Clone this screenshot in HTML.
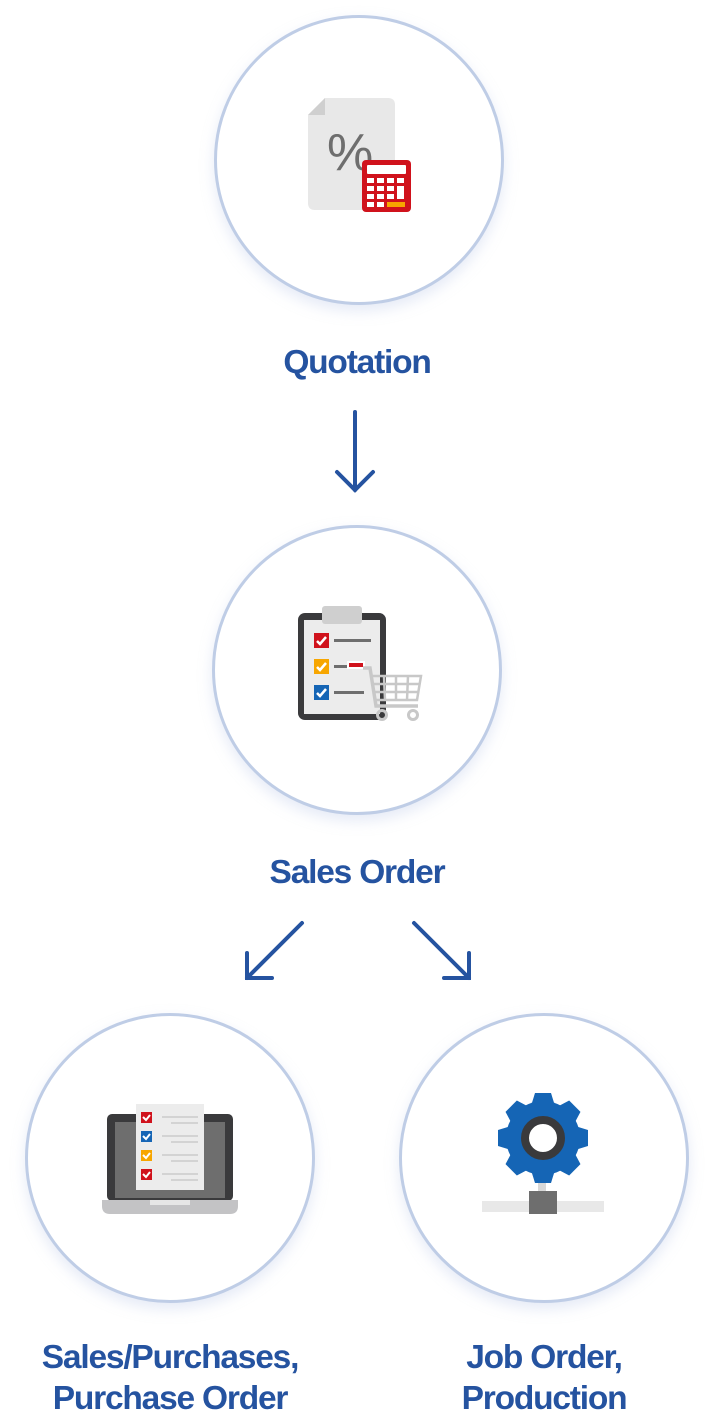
<!DOCTYPE html>
<html><head><style>
html,body{margin:0;padding:0;background:#fff;}
body{width:714px;height:1414px;position:relative;overflow:hidden;font-family:"Liberation Sans",sans-serif;}
.c{position:absolute;width:284px;height:284px;border-radius:50%;border:3px solid #bfcde6;background:#fff;box-shadow:0 6px 14px rgba(180,195,230,0.35);}
.t{position:absolute;color:#2553a0;font-weight:bold;font-size:33.5px;letter-spacing:-1.2px;text-align:center;line-height:41px;}
svg{position:absolute;left:0;top:0;}
</style></head><body>
<div class="c" style="left:214px;top:15px"></div>
<div class="c" style="left:212px;top:525px"></div>
<div class="c" style="left:25px;top:1013px"></div>
<div class="c" style="left:399px;top:1013px"></div>
<div class="t" style="left:200px;width:314px;top:342px">Quotation</div>
<div class="t" style="left:200px;width:314px;top:852px">Sales Order</div>
<div class="t" style="left:0px;width:340px;top:1337px">Sales/Purchases,<br>Purchase Order</div>
<div class="t" style="left:384px;width:320px;top:1337px">Job Order,<br>Production</div>
<svg width="714" height="1414">
<g stroke="#2553a0" stroke-width="4" fill="none" stroke-linecap="round">
<line x1="355" y1="412" x2="355" y2="490"/><polyline points="337,472 355,490 373,472"/>
<line x1="302" y1="923" x2="247" y2="978"/><polyline points="247,953 247,978 272,978"/>
<line x1="414" y1="923" x2="469" y2="978"/><polyline points="444,978 469,978 469,953"/>
</g>
<!-- quotation icon -->
<path d="M325,98 H388 Q395,98 395,105 V203 Q395,210 388,210 H315 Q308,210 308,203 V115 Z" fill="#e8e8e8"/>
<path d="M325,98 V115 H308 Z" fill="#cfcfcf"/>
<text x="327" y="170" font-size="52" fill="#6e6e6e" font-family="Liberation Sans">%</text>
<rect x="362" y="160" width="49" height="52" rx="4" fill="#d0121c"/>
<rect x="367" y="165" width="39" height="9" rx="1" fill="#fff"/>
<g fill="#fff"><rect x="367" y="178" width="7" height="5"/><rect x="377" y="178" width="7" height="5"/><rect x="387" y="178" width="7" height="5"/><rect x="397" y="178" width="7" height="5"/>
<rect x="367" y="186" width="7" height="5"/><rect x="377" y="186" width="7" height="5"/><rect x="387" y="186" width="7" height="5"/><rect x="397" y="186" width="7" height="13"/>
<rect x="367" y="194" width="7" height="5"/><rect x="377" y="194" width="7" height="5"/><rect x="387" y="194" width="7" height="5"/>
<rect x="367" y="202" width="7" height="5"/><rect x="377" y="202" width="7" height="5"/></g>
<rect x="387" y="202" width="18" height="5" fill="#f7a600"/>
<!-- sales order icon -->
<rect x="298" y="613" width="88" height="107" rx="7" fill="#3a3a3c"/>
<rect x="304" y="620" width="76" height="94" fill="#ececec"/>
<rect x="322" y="606" width="40" height="18" rx="3" fill="#cfcfcf"/>
<rect x="314" y="633" width="15" height="15" fill="#d0121c"/>
<rect x="314" y="659" width="15" height="15" fill="#f7a600"/>
<rect x="314" y="685" width="15" height="15" fill="#1565b5"/>
<g stroke="#fff" stroke-width="2.5" fill="none"><polyline points="317,641 320,644 326,637"/><polyline points="317,667 320,670 326,663"/><polyline points="317,693 320,696 326,689"/></g>
<g fill="#6e6e6e"><rect x="334" y="639" width="37" height="3"/><rect x="334" y="665" width="14" height="3"/><rect x="334" y="691" width="30" height="3"/></g>
<rect x="348" y="662" width="16" height="6" fill="#d0121c" stroke="#fff" stroke-width="2"/>
<path d="M363,668 H370 L376,706 H418" stroke="#c8c8c8" stroke-width="3.5" fill="none"/>
<g stroke="#c8c8c8" stroke-width="2.5" fill="none"><path d="M372,676 H421 L417,700 H375"/><line x1="373" y1="684" x2="420" y2="684"/><line x1="374" y1="692" x2="419" y2="692"/><line x1="384" y1="676" x2="385" y2="700"/><line x1="396" y1="676" x2="396" y2="700"/><line x1="408" y1="676" x2="407" y2="700"/></g>
<circle cx="382" cy="715" r="4.5" fill="none" stroke="#c8c8c8" stroke-width="3"/><circle cx="413" cy="715" r="4.5" fill="none" stroke="#c8c8c8" stroke-width="3"/>
<!-- laptop icon -->
<rect x="107" y="1114" width="126" height="87" rx="5" fill="#3a3a3c"/>
<rect x="115" y="1122" width="110" height="76" fill="#6e6e6e"/>
<path d="M102,1200 H238 V1206 Q238,1214 230,1214 H110 Q102,1214 102,1206 Z" fill="#c3c3c5"/>
<rect x="150" y="1200" width="40" height="5" fill="#e6e6e6"/>
<rect x="136" y="1104" width="68" height="86" fill="#ececec"/>
<g><rect x="141" y="1112" width="11" height="11" fill="#d0121c"/><rect x="141" y="1131" width="11" height="11" fill="#1565b5"/><rect x="141" y="1150" width="11" height="11" fill="#f7a600"/><rect x="141" y="1169" width="11" height="11" fill="#d0121c"/></g>
<g stroke="#fff" stroke-width="2" fill="none"><polyline points="143,1117 146,1120 150,1115"/><polyline points="143,1136 146,1139 150,1134"/><polyline points="143,1155 146,1158 150,1153"/><polyline points="143,1174 146,1177 150,1172"/></g>
<g fill="#d3d3d3"><rect x="162" y="1116" width="36" height="2"/><rect x="171" y="1122" width="27" height="2"/><rect x="162" y="1135" width="36" height="2"/><rect x="171" y="1141" width="27" height="2"/><rect x="162" y="1154" width="36" height="2"/><rect x="171" y="1160" width="27" height="2"/><rect x="162" y="1173" width="36" height="2"/><rect x="171" y="1179" width="27" height="2"/></g>
<!-- gear icon -->
<rect x="482" y="1201" width="122" height="11" fill="#e8e8e8"/>
<rect x="538" y="1182" width="8" height="12" fill="#d8d8d8"/>
<rect x="529" y="1191" width="28" height="23" fill="#6e6e6e"/>
<g fill="#1565b5" transform="translate(543,1138)">
<circle r="37"/>
<g id="tt"><path d="M-12,-32 L-8,-45 H8 L12,-32 Z"/></g>
<use href="#tt" transform="rotate(45)"/><use href="#tt" transform="rotate(90)"/><use href="#tt" transform="rotate(135)"/><use href="#tt" transform="rotate(180)"/><use href="#tt" transform="rotate(225)"/><use href="#tt" transform="rotate(270)"/><use href="#tt" transform="rotate(315)"/>
</g>
<circle cx="543" cy="1138" r="18" fill="#fff" stroke="#3a3a3c" stroke-width="8"/>
</svg>
</body></html>
